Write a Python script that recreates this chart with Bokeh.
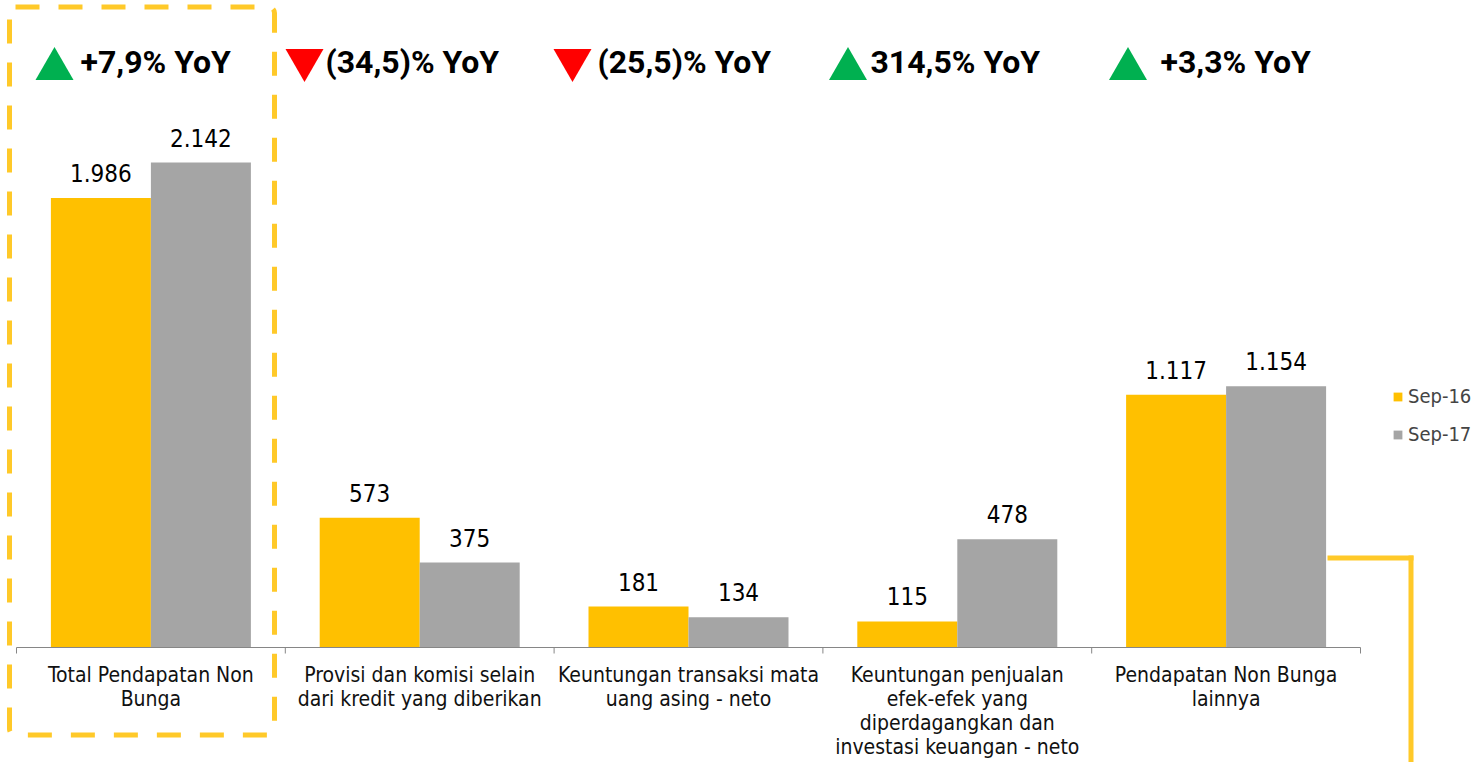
from bokeh.plotting import figure
from bokeh.models import (Range1d, ColumnDataSource, Legend, LegendItem, BoxAnnotation)
from bokeh.core.properties import value
from bokeh.embed import file_html
from bokeh.resources import INLINE

# ---------------- data ----------------
categories = [
    "Total Pendapatan Non\nBunga",
    "Provisi dan komisi selain\ndari kredit yang diberikan",
    "Keuntungan transaksi mata\nuang asing - neto",
    "Keuntungan penjualan\nefek-efek yang\ndiperdagangkan dan\ninvestasi keuangan - neto",
    "Pendapatan Non Bunga\nlainnya",
]
series = ["Sep-16", "Sep-17"]
sep16 = [1986, 573, 181, 115, 1117]
sep17 = [2142, 375, 134, 478, 1154]
yoy = [7.9, -34.5, -25.5, 314.5, 3.3]
yoy_labels = ["+7,9% YoY", "(34,5)% YoY", "(25,5)% YoY", "314,5% YoY", "+3,3% YoY"]

# ---------------- layout / style ----------------
W, H = 1473, 762
AXIS_LEFT_PX, BASE_PX = 16, 647      # where the category axis starts / baseline
CAT_PX = 268.8                        # width of one category
SCALE = 0.22637                       # px per value unit
BAR_W = 100 / CAT_PX
YELLOW, GREY = "#FFC000", "#A5A5A5"
DECO = "#FFC929"
AXIS_GREY = "#868686"
FONT = "DejaVu Sans Condensed"
HEAD_FONT = "Roboto"
head_text_dx = [-70.4, -94.2, -91.0, -86.8, -65.6]
head_tri_dx = [-96.4, -115.2, -116.0, -109.3, -98.1]


def X(px):
    return (px - AXIS_LEFT_PX) / CAT_PX


def Y(py):
    return (BASE_PX - py) / SCALE


def fmt(v):
    return f"{v:,}".replace(",", ".")


n = len(categories)
xc = [i + 0.5 for i in range(n)]
src = ColumnDataSource(dict(
    cat=categories, xc=xc,
    x16=[x - BAR_W / 2 for x in xc], x17=[x + BAR_W / 2 for x in xc],
    sep16=sep16, sep17=sep17,
    lab16=[fmt(v) for v in sep16], lab17=[fmt(v) for v in sep17],
    yoy=yoy_labels, tdx=head_text_dx,
))

p = figure(width=W, height=H,
           x_range=Range1d(X(0), X(W)), y_range=Range1d(Y(H), Y(0)),
           x_axis_location=None, y_axis_location=None,
           toolbar_location=None, output_backend="svg",
           min_border=0)
p.outline_line_color = None
p.grid.visible = False
p.background_fill_color = "white"

r16 = p.vbar(x="x16", top="sep16", width=BAR_W, source=src, fill_color=YELLOW, line_color=None)
r17 = p.vbar(x="x17", top="sep17", width=BAR_W, source=src, fill_color=GREY, line_color=None)

lab_style = dict(text_align="center", text_baseline="alphabetic", y_offset=-25,
                 text_font=value(FONT), text_font_size="24px", text_color="#000000")
p.text(x="x16", y="sep16", text="lab16", source=src, **lab_style)
p.text(x="x17", y="sep17", text="lab17", source=src, **lab_style)

# category axis: baseline, boundary ticks, labels
edges = list(range(n + 1))
p.segment(x0=[edges[0]], x1=[edges[-1]], y0=[0], y1=[0], line_color=AXIS_GREY, line_width=1)
p.segment(x0=edges, x1=edges, y0=[0] * len(edges), y1=[Y(BASE_PX + 6)] * len(edges),
          line_color=AXIS_GREY, line_width=1)
p.text(x="xc", y=Y(662), text="cat", source=src, text_align="center", text_baseline="top",
       text_font=value(FONT), text_font_size="21px", text_line_height=1.0,
       text_color="#111111")

# header YoY texts and arrows
p.text(x="xc", y=Y(61), text="yoy", x_offset="tdx", source=src,
       text_align="left", text_baseline="middle", text_font=value(HEAD_FONT),
       text_font_style="bold", text_font_size="32px", text_color="#000000")
tri = ColumnDataSource(dict(
    x=[c + d / CAT_PX for c, d in zip(xc, head_tri_dx)],
    y=[Y(68.5) if g > 0 else Y(59.5) for g in yoy],
    marker=["triangle" if g > 0 else "inverted_triangle" for g in yoy],
    color=["#00B050" if g > 0 else "#FF0000" for g in yoy],
))
p.scatter(x="x", y="y", marker="marker", size=38, fill_color="color", line_color=None, source=tri)

legend = Legend(items=[LegendItem(label=series[0], renderers=[r16]),
                       LegendItem(label=series[1], renderers=[r17])],
                location=(1392, 316), glyph_width=11, glyph_height=11, label_standoff=5,
                label_text_font=FONT, label_text_font_size="20px", spacing=14,
                padding=0, margin=0, border_line_color=None, background_fill_alpha=0)
p.add_layout(legend)

# decorations (canvas pixels)
units = dict(left_units="canvas", right_units="canvas", top_units="canvas", bottom_units="canvas")
p.add_layout(BoxAnnotation(left=9, right=274, top=6.5, bottom=734.5, fill_alpha=0,
                           line_color=DECO, line_alpha=1, line_width=5, line_dash="24 19",
                           border_radius=6, level="overlay", **units))
p.add_layout(BoxAnnotation(left=1327, right=1413, top=555, bottom=560, fill_color=DECO,
                           fill_alpha=1, line_color=None, level="overlay", **units))
p.add_layout(BoxAnnotation(left=1408, right=1413, top=555, bottom=H, fill_color=DECO,
                           fill_alpha=1, line_color=None, level="overlay", **units))

open("out.html", "w").write(file_html(p, INLINE))
